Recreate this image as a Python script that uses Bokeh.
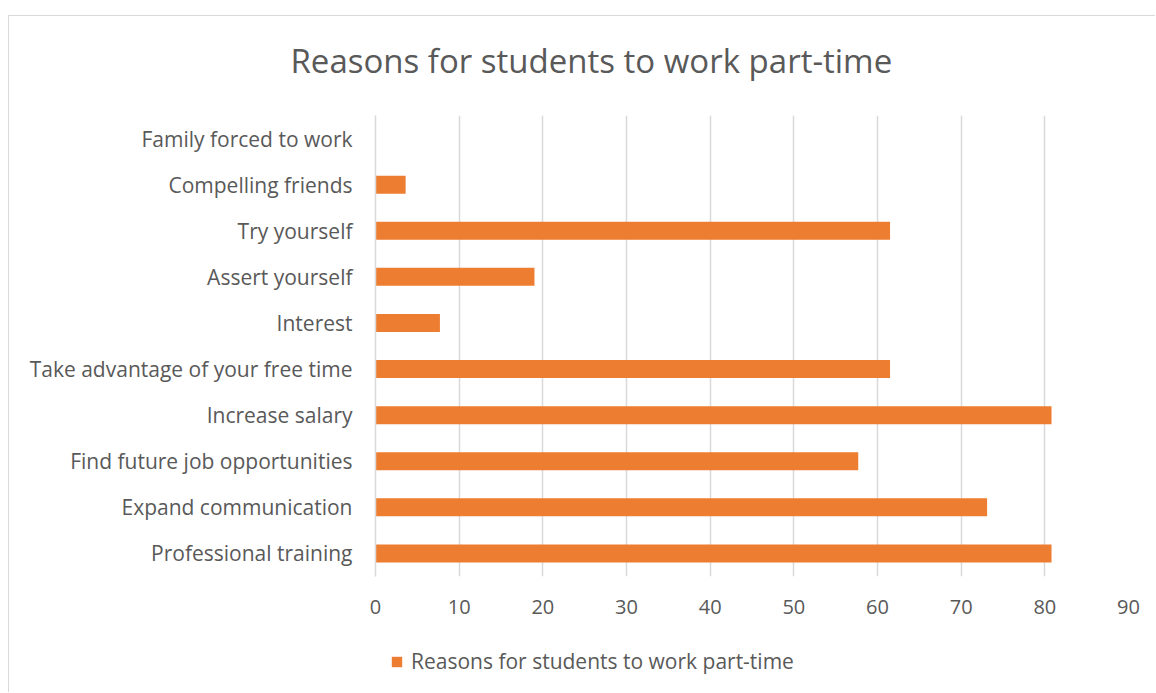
from bokeh.plotting import figure
from bokeh.layouts import column
from bokeh.models import FactorRange, Range1d, Legend, LegendItem, FixedTicker
from bokeh.embed import file_html
from bokeh.resources import INLINE

title_text = "Reasons for students to work part-time"
series_name = "Reasons for students to work part-time"
categories = [
    "Family forced to work",
    "Compelling friends",
    "Try yourself",
    "Assert yourself",
    "Interest",
    "Take advantage of your free time",
    "Increase salary",
    "Find future job opportunities",
    "Expand communication",
    "Professional training",
]
values = [0, 3.6, 61.5, 19.0, 7.7, 61.5, 80.8, 57.7, 73.1, 80.8]
x_ticks = [0, 10, 20, 30, 40, 50, 60, 70, 80, 90]

FONT = "Open Sans"
TXT = "#595959"
GRID = "#d9d9d9"
BAR = "#ED7D31"
BORDER = "1px solid #d9d9d9"
W = 1147
LEFT = 366
RIGHT = 28


def base(f, styles):
    f.styles = styles
    f.outline_line_color = None
    f.background_fill_color = "white"
    f.border_fill_color = "white"
    return f


# ---- title strip ----
tf = base(figure(width=W, height=100, x_range=Range1d(0, 1), y_range=Range1d(0, 1),
                 x_axis_type=None, y_axis_type=None,
                 output_backend="svg", toolbar_location=None,
                 min_border_left=LEFT, min_border_right=RIGHT,
                 min_border_top=0, min_border_bottom=0,
                 margin=(15, 0, 0, 8)),
          {"border-left": BORDER, "border-top": BORDER})
tf.grid.grid_line_color = None
tf.title.text = title_text
tf.title.text_font = FONT
tf.title.text_font_size = "33px"
tf.title.text_font_style = "normal"
tf.title.text_color = TXT
tf.title.align = "left"
tf.title.offset = -85
tf.title.standoff = 39

# ---- main chart ----
p = base(figure(
    width=W, height=525,
    y_range=FactorRange(factors=list(reversed(categories)), range_padding=0),
    x_range=Range1d(0, 90),
    output_backend="svg", toolbar_location=None,
    min_border_left=LEFT, min_border_right=RIGHT,
    min_border_top=0, min_border_bottom=64,
    margin=(0, 0, 0, 8),
), {"border-left": BORDER})

r = p.hbar(y=categories, right=values, height=0.39, left=0,
           fill_color=BAR, line_color=None)

p.xaxis.ticker = FixedTicker(ticks=x_ticks)
p.xaxis.axis_line_color = None
p.xaxis.major_tick_line_color = None
p.xaxis.minor_tick_line_color = None
p.xaxis.major_label_text_font = FONT
p.xaxis.major_label_text_font_size = "20px"
p.xaxis.major_label_text_color = TXT
p.xaxis.major_label_standoff = 17

p.yaxis.axis_line_color = GRID
p.yaxis.axis_line_width = 1.5
p.yaxis.major_tick_line_color = None
p.yaxis.minor_tick_line_color = None
p.yaxis.major_label_text_font = FONT
p.yaxis.major_label_text_font_size = "21px"
p.yaxis.major_label_text_color = TXT
p.yaxis.major_label_standoff = 17

p.xgrid.grid_line_color = GRID
p.xgrid.grid_line_width = 1.5
p.ygrid.grid_line_color = None

# ---- legend strip ----
lg = base(figure(
    width=W, height=52,
    y_range=FactorRange(factors=list(reversed(categories))),
    x_range=Range1d(-2, -1),  # same series, kept out of view: only its legend entry shows
    x_axis_type=None, y_axis_type=None,
    output_backend="svg", toolbar_location=None,
    min_border_left=LEFT, min_border_right=RIGHT,
    min_border_top=0, min_border_bottom=10,
    margin=(0, 0, 0, 8),
), {"border-left": BORDER})
lg.grid.grid_line_color = None
lr = lg.hbar(y=categories, right=values, height=0, left=0,
             fill_color=BAR, line_color=None)

legend = Legend(items=[LegendItem(label=series_name, renderers=[lr])],
                location="left", orientation="horizontal",
                label_text_font=FONT, label_text_font_size="21px",
                label_text_color=TXT, glyph_width=13, glyph_height=13,
                label_standoff=8, border_line_color=None,
                background_fill_alpha=0, padding=6, margin=15)
lg.add_layout(legend, "center")

layout = column(tf, p, lg, spacing=0)
open("out.html", "w").write(file_html(layout, INLINE))
